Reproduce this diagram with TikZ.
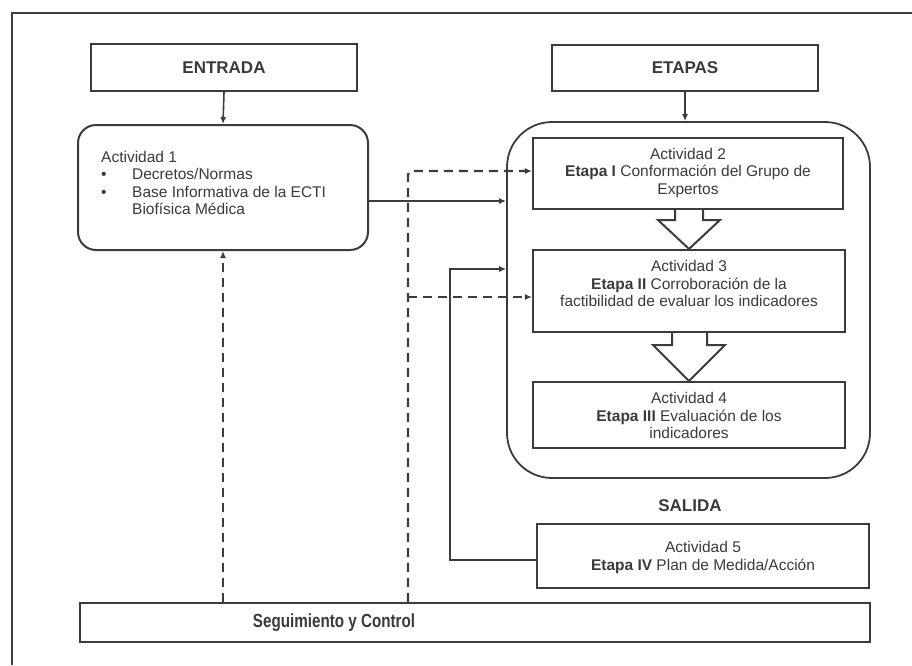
\documentclass[tikz,border=0pt]{standalone}
\usepackage{fontspec}
\setmainfont{Liberation Sans}
\newfontfamily\segfont[FakeStretch=0.8]{Liberation Sans}
\usetikzlibrary{arrows.meta}
\definecolor{ln}{HTML}{3C3C3C}
\definecolor{tx}{HTML}{3A3A3A}
\begin{document}
\begin{tikzpicture}[x=1pt,y=-1pt,
  every node/.style={inner sep=0pt, text=tx},
  body/.style={font=\fontsize{15.5}{17.5}\selectfont, align=center},
  head/.style={font=\fontsize{17}{20}\selectfont\bfseries},
  sqbox/.style={draw=ln, line width=2.1pt, rectangle},
  rbox/.style={draw=ln, line width=2pt, rectangle, rounded corners=18pt},
  conbox/.style={draw=ln, line width=1.8pt, rectangle, rounded corners=45pt},
  tip/.style={-{Latex[length=7pt,width=6pt]}},
  solidln/.style={draw=ln, line width=1.6pt},
  thinln/.style={draw=ln, line width=1.1pt},
  dashln/.style={draw=ln, line width=2.4pt, dash pattern=on 9pt off 6pt},
  hollow/.style={draw=ln, line width=2pt, fill=white, line join=miter}
]
\useasboundingbox (0,0) rectangle (912,665);
% outer frame (only top and left visible)
\draw[ln, line width=2pt] (12,665) -- (12,13) -- (912,13);

% boxes
\node[sqbox, minimum width=266pt, minimum height=47pt, head] (entrada) at (224,67.5) {ENTRADA};
\node[sqbox, minimum width=266pt, minimum height=46pt, head] (etapas) at (685,68) {ETAPAS};
\node[rbox, minimum width=290pt, minimum height=125pt] (act1) at (223,187.5) {};
\node[body, align=left, anchor=north west] (act1t) at (101,151)
  {Actividad 1\\
   \makebox[31pt][l]{\textbullet}Decretos/Normas\\
   \makebox[31pt][l]{\textbullet}Base Informativa de la ECTI\\
   \hspace*{31pt}Biofísica Médica};

\node[conbox, minimum width=363pt, minimum height=356pt] (cont) at (688.5,300) {};
\node[sqbox, minimum width=310pt, minimum height=71pt] (act2) at (688,173.5) {};
\node[body] (act2t) at (688,172.5) {Actividad 2\\\textbf{Etapa I} Conformación del Grupo de\\Expertos};
\node[sqbox, minimum width=312pt, minimum height=82pt] (act3) at (689,291) {};
\node[body] (act3t) at (689,283.5) {Actividad 3\\\textbf{Etapa II} Corroboración de la\\factibilidad de evaluar los indicadores};
\node[sqbox, minimum width=312pt, minimum height=66pt] (act4) at (689,415) {};
\node[body] (act4t) at (689,415.5) {Actividad 4\\\textbf{Etapa III} Evaluación de los\\indicadores};

\node[head] (salida) at (690,506) {SALIDA};
\node[sqbox, minimum width=332pt, minimum height=64pt] (act5) at (703,556) {};
\node[body] (act5t) at (703,557.5) {Actividad 5\\\textbf{Etapa IV} Plan de Medida/Acción};

\node[sqbox, minimum width=790pt, minimum height=39pt] (seg) at (475,622.5) {};
\node[font=\segfont\fontsize{19}{22}\selectfont\bfseries] (segt) at (334,622.5) {Seguimiento y Control};

% hollow arrows between stages
\draw[hollow] (act2.south -| 675,0) -- (675,220) -- (658,220) -- (act3.north) -- (720,220) -- (703,220) -- (act2.south -| 703,0);
\draw[hollow] (act3.south -| 672,0) -- (672,345) -- (653,345) -- (act4.north) -- (725,345) -- (707,345) -- (act3.south -| 707,0);

% connectors
\draw[solidln, tip] (entrada.south) -- (act1.north);
\draw[solidln, tip] (etapas.south) -- (cont.north -| etapas.south);
\draw[solidln, line width=2.4pt, tip] (act1.east |- 0,201) -- (cont.west |- 0,201);

\coordinate (tk) at (450,269);
\draw[thinln, tip] (act5.west |- 0,560) -| (tk) -- (cont.west |- tk);

\coordinate (dv) at (408,171);
\draw[dashln, tip, rounded corners=4pt] (seg.north -| dv) -- (dv) -- (act2.west |- dv);
\draw[dashln, tip] (dv |- 0,297) -- (act3.west |- 0,297);
\draw[dashln, tip] (seg.north -| act1.south) -- (act1.south);
\end{tikzpicture}
\end{document}
